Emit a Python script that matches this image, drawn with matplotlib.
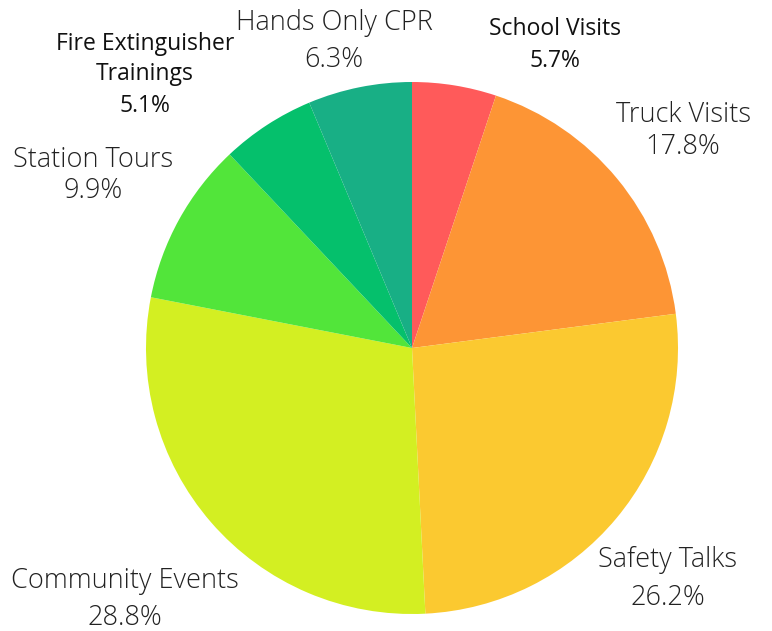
import matplotlib.pyplot as plt

# slices clockwise from 12 o'clock
labels = ["School Visits", "Truck Visits", "Safety Talks", "Community Events",
          "Station Tours", "Fire Extinguisher\nTrainings", "Hands Only CPR"]
# slice sizes as drawn in the picture
shares = [5.1, 17.8, 26.2, 28.8, 9.9, 5.7, 6.3]
# percentages as printed on the labels (the two bold ones are swapped vs. the slices)
shown_pct = [5.7, 17.8, 26.2, 28.8, 9.9, 5.1, 6.3]
colors = ["#FF5A5A", "#FD9535", "#FBC930", "#D3EF22", "#52E53A", "#05C06C", "#18AF85"]
bold = [True, False, False, False, False, True, False]

W, H = 772, 631
fig = plt.figure(figsize=(W / 100, H / 100), dpi=100)
ax = fig.add_axes([0, 0, 1, 1])

cx, cy, r = 412, H - 348, 266
ax.pie(shares, colors=colors, startangle=90, counterclock=False,
       center=(cx, cy), radius=r, frame=True,
       wedgeprops=dict(linewidth=0, antialiased=True))
ax.set_xlim(0, W)
ax.set_ylim(0, H)
ax.set_aspect("equal")
ax.axis("off")

# text centre x and the baseline y of each line (pixels from top)
label_pos = {
    "School Visits": (555, [35, 67]),
    "Truck Visits": (683, [122, 154]),
    "Safety Talks": (668, [567, 605]),
    "Community Events": (125, [588, 625]),
    "Station Tours": (93, [167, 198]),
    "Fire Extinguisher\nTrainings": (145, [50, 80, 112]),
    "Hands Only CPR": (334, [30, 67]),
}

for lab, pct, b in zip(labels, shown_pct, bold):
    x, ys = label_pos[lab]
    lines = lab.split("\n") + [f"{pct:.1f}%"]
    for line, y in zip(lines, ys):
        if b:
            ax.text(x, H - y, line, ha="center", va="baseline", fontsize=16.5,
                    family="Open Sans", fontweight="medium", color="#111111")
        else:
            ax.text(x, H - y, line, ha="center", va="baseline", fontsize=19.5,
                    family="Open Sans", fontweight="light", color="#222222")

fig.savefig("out.png", dpi=100)
